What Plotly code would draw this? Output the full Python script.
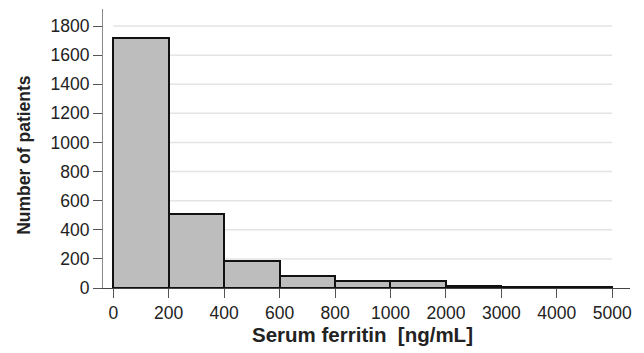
import plotly.graph_objects as go

bin_edges = ["0", "200", "400", "600", "800", "1000", "2000", "3000", "4000", "5000"]
counts = [1715, 506, 188, 84, 50, 50, 16, 7, 6]
y_ticks = [0, 200, 400, 600, 800, 1000, 1200, 1400, 1600, 1800]

n = len(counts)
centers = [i + 0.5 for i in range(n)]

fig = go.Figure()
fig.add_trace(go.Bar(
    x=centers, y=counts, width=[1] * n,
    marker=dict(color="#bdbdbd", line=dict(color="#111111", width=2)),
    showlegend=False, hoverinfo="skip",
))

for v in y_ticks[1:]:
    fig.add_shape(type="line", xref="x", yref="y", x0=0, x1=n, y0=v, y1=v,
                  line=dict(color="#e4e4e4", width=1.5), layer="below")

FAM = "Liberation Sans, Arial, sans-serif"
font = dict(family=FAM, size=17.5, color="#222222")

fig.add_annotation(text="<b>Number of patients</b>", xref="paper", yref="paper",
                   x=-0.15, y=0.477, textangle=-90, showarrow=False,
                   xanchor="center", yanchor="middle",
                   font=dict(family=FAM, size=17.5, color="#222222"))
fig.add_annotation(text="<b>Serum ferritin  [ng/mL]</b>", xref="paper", yref="paper",
                   x=0.4915, y=-0.168, showarrow=False,
                   xanchor="center", yanchor="middle",
                   font=dict(family=FAM, size=20.5, color="#222222"))

fig.update_layout(
    width=644, height=353,
    margin=dict(l=103, r=14, t=9, b=65),
    paper_bgcolor="white", plot_bgcolor="white",
    font=font,
    bargap=0,
    xaxis=dict(
        range=[-0.185, 9.32], automargin=False,
        tickmode="array", tickvals=list(range(len(bin_edges))), ticktext=bin_edges,
        tickfont=dict(family=FAM, size=17.5, color="#222222"),
        showgrid=False, zeroline=False,
        showline=True, linecolor="#444444", linewidth=1.2,
        ticks="outside", ticklen=9, tickcolor="#555555", tickwidth=1.2,
    ),
    yaxis=dict(
        range=[0, 1917], automargin=False,
        tickmode="array", tickvals=y_ticks,
        tickfont=dict(family=FAM, size=17.5, color="#222222"),
        showgrid=False, zeroline=False,
        showline=True, linecolor="#888888", linewidth=1.2,
        ticks="outside", ticklen=9, tickcolor="#555555", tickwidth=1.2,
    ),
)

fig.write_html("out.html", config={"displayModeBar": False},
               post_script="document.body.style.margin='0';document.body.style.overflow='hidden';")
